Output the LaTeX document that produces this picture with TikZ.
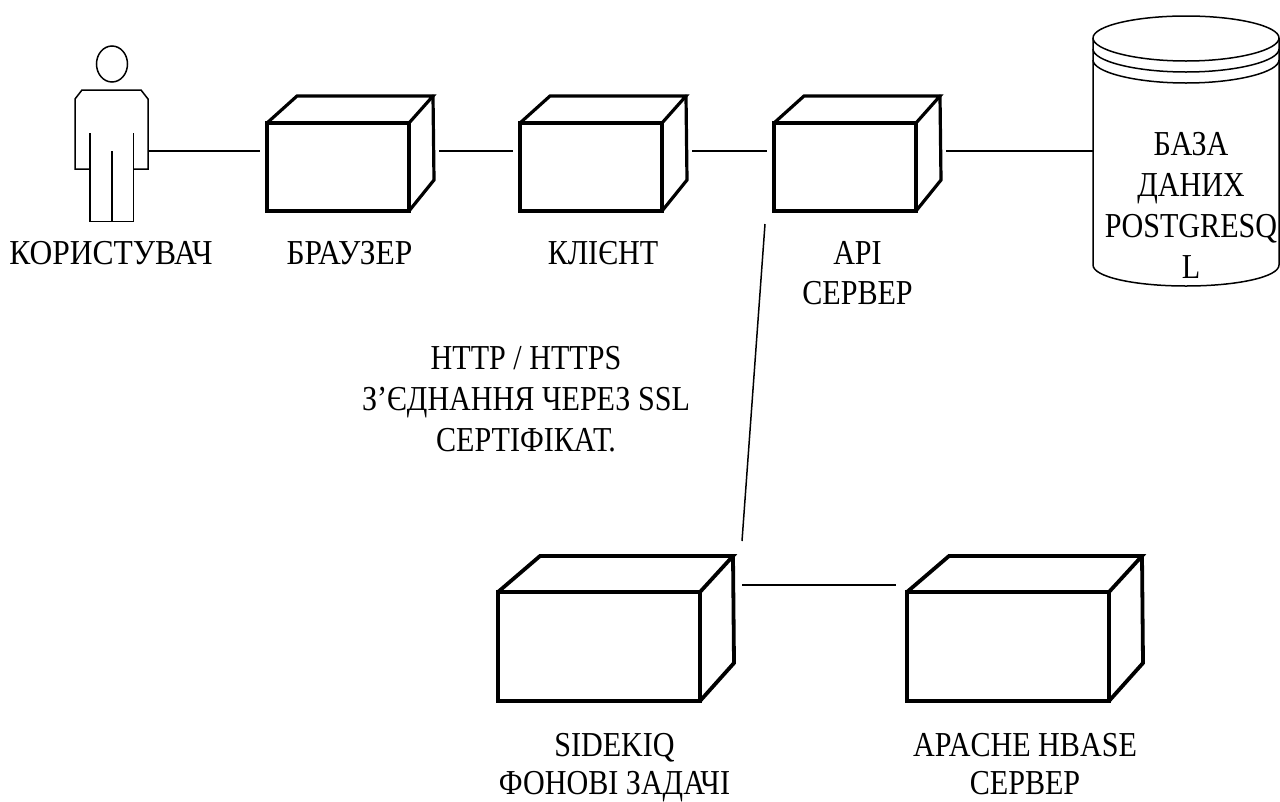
\documentclass[tikz,border=0pt]{standalone}
\usepackage{fontspec}
\setmainfont[FakeStretch=0.86]{Liberation Serif}
\newfontfamily\widerserif[FakeStretch=0.9]{Liberation Serif}
\newlength{\cubew}
\tikzset{
  cubeline/.style={line width=\cubew,line join=miter,line cap=round},
  cubefront/.style={draw,line width=\cubew,inner sep=0pt,outer sep=0pt},
  thin line/.style={line width=1.5pt},
  link/.style={line width=1.5pt},
  lbl/.style={align=center,anchor=north,inner sep=0pt,outer sep=0pt,font=\fontsize{35}{#1}\selectfont},
  lbl/.default=41,
  lblwide/.style={align=center,anchor=north,inner sep=0pt,outer sep=0pt,font=\widerserif\fontsize{35}{41}\selectfont}
}
% name, left, top, width, height, back-left dx, back-right dx, dy, side-bottom dy
\newcommand{\cubebox}[9]{%
  \node[cubefront,minimum width=#4pt,minimum height=#5pt] (#1) at ({#2+#4/2},{#3+#5/2}) {};
  \draw[cubeline] (#1.north west) -- ++(#6,-#8) -- ([shift={(#7,-#8)}]#1.north east) -- (#1.north east);
  \draw[cubeline] ([shift={(#7,-#8)}]#1.north east) -- ([shift={(#7+1,-#9)}]#1.south east) -- (#1.south east);
}
\begin{document}
\begin{tikzpicture}[x=1pt,y=-1pt]
\useasboundingbox (0,0) rectangle (1280,801);
\fill[white] (0,0) rectangle (1280,801);
% actor
\draw[thin line] (112,64) ellipse [x radius=15.5,y radius=18];
\draw[thin line] (90,169) -- (75,169) -- (75,99) -- (82,90) -- (141,90) -- (148,99) -- (148,169) -- (133.5,169);
\draw[thin line] (90,133) -- (90,221.5) -- (133.5,221.5) -- (133.5,133);
\draw[thin line] (112,151) -- (112,221.5);
\coordinate (userport) at (148,151);
% cubes
\setlength{\cubew}{3.2pt}
\cubebox{browser}{267}{123}{142}{88}{30}{24}{27}{31}
\cubebox{client}{520}{123}{142}{88}{30}{24}{27}{31}
\cubebox{api}{774}{123}{142}{88}{30}{24}{27}{31}
\setlength{\cubew}{3.8pt}
\cubebox{sidekiq}{498}{592}{202}{109}{42}{33}{36}{38}
\cubebox{hbase}{907}{592}{202}{109}{42}{33}{36}{38}
% database
\node[inner sep=0pt,outer sep=0pt,minimum width=186pt,minimum height=270pt] (db) at (1186,151) {};
\draw[thin line] (1093,38) .. controls (1093,26) and (1135,16) .. (1186,16) .. controls (1237,16) and (1279,26) .. (1279,38) .. controls (1279,50) and (1237,61) .. (1186,61) .. controls (1135,61) and (1093,50) .. (1093,38);
\draw[thin line] (1093,49) .. controls (1093,61) and (1135,72) .. (1186,72) .. controls (1237,72) and (1279,61) .. (1279,49);
\draw[thin line] (1093,60) .. controls (1093,72) and (1135,83) .. (1186,83) .. controls (1237,83) and (1279,72) .. (1279,60);
\draw[thin line] (1093,38) -- (1093,265) .. controls (1093,277) and (1135,286) .. (1186,286) .. controls (1237,286) and (1279,277) .. (1279,265) -- (1279,38);
% connectors
\draw[link] (userport) -- ([shift={(-7,-16)}]browser.west);
\draw[link] ([shift={(30,-16)}]browser.east) -- ([shift={(-7,-16)}]client.west);
\draw[link] ([shift={(30,-16)}]client.east) -- ([shift={(-7,-16)}]api.west);
\draw[link] ([shift={(30,-16)}]api.east) -- (db.west);
\draw[link] ([shift={(-9,13)}]api.south west) -- ([shift={(42,-51)}]sidekiq.north east);
\draw[link] ([shift={(42,-7)}]sidekiq.north east) -- ([shift={(-11,-7)}]hbase.north west);
% labels
\node[lblwide] (l1) at (111,241) {КОРИСТУВАЧ};
\node[lblwide] (l2) at (349.5,241) {БРАУЗЕР};
\node[lbl] (l3) at (603,241) {КЛІЄНТ};
\node[lbl=40] (l4) at (857.5,241) {API\\СЕРВЕР};
\node[lbl] (l5) at (1191,132) {БАЗА\\ДАНИХ\\POSTGRESQ\\L};
\node[lbl] (l6) at (526,346) {HTTP / HTTPS\\З’ЄДНАННЯ ЧЕРЕЗ SSL\\СЕРТІФІКАТ.};
\node[lbl=38.5] (l7) at (614.5,733) {SIDEKIQ\\ФОНОВІ ЗАДАЧІ};
\node[lbl=38.5] (l8) at (1025,733) {APACHE HBASE\\СЕРВЕР};
\end{tikzpicture}
\end{document}
